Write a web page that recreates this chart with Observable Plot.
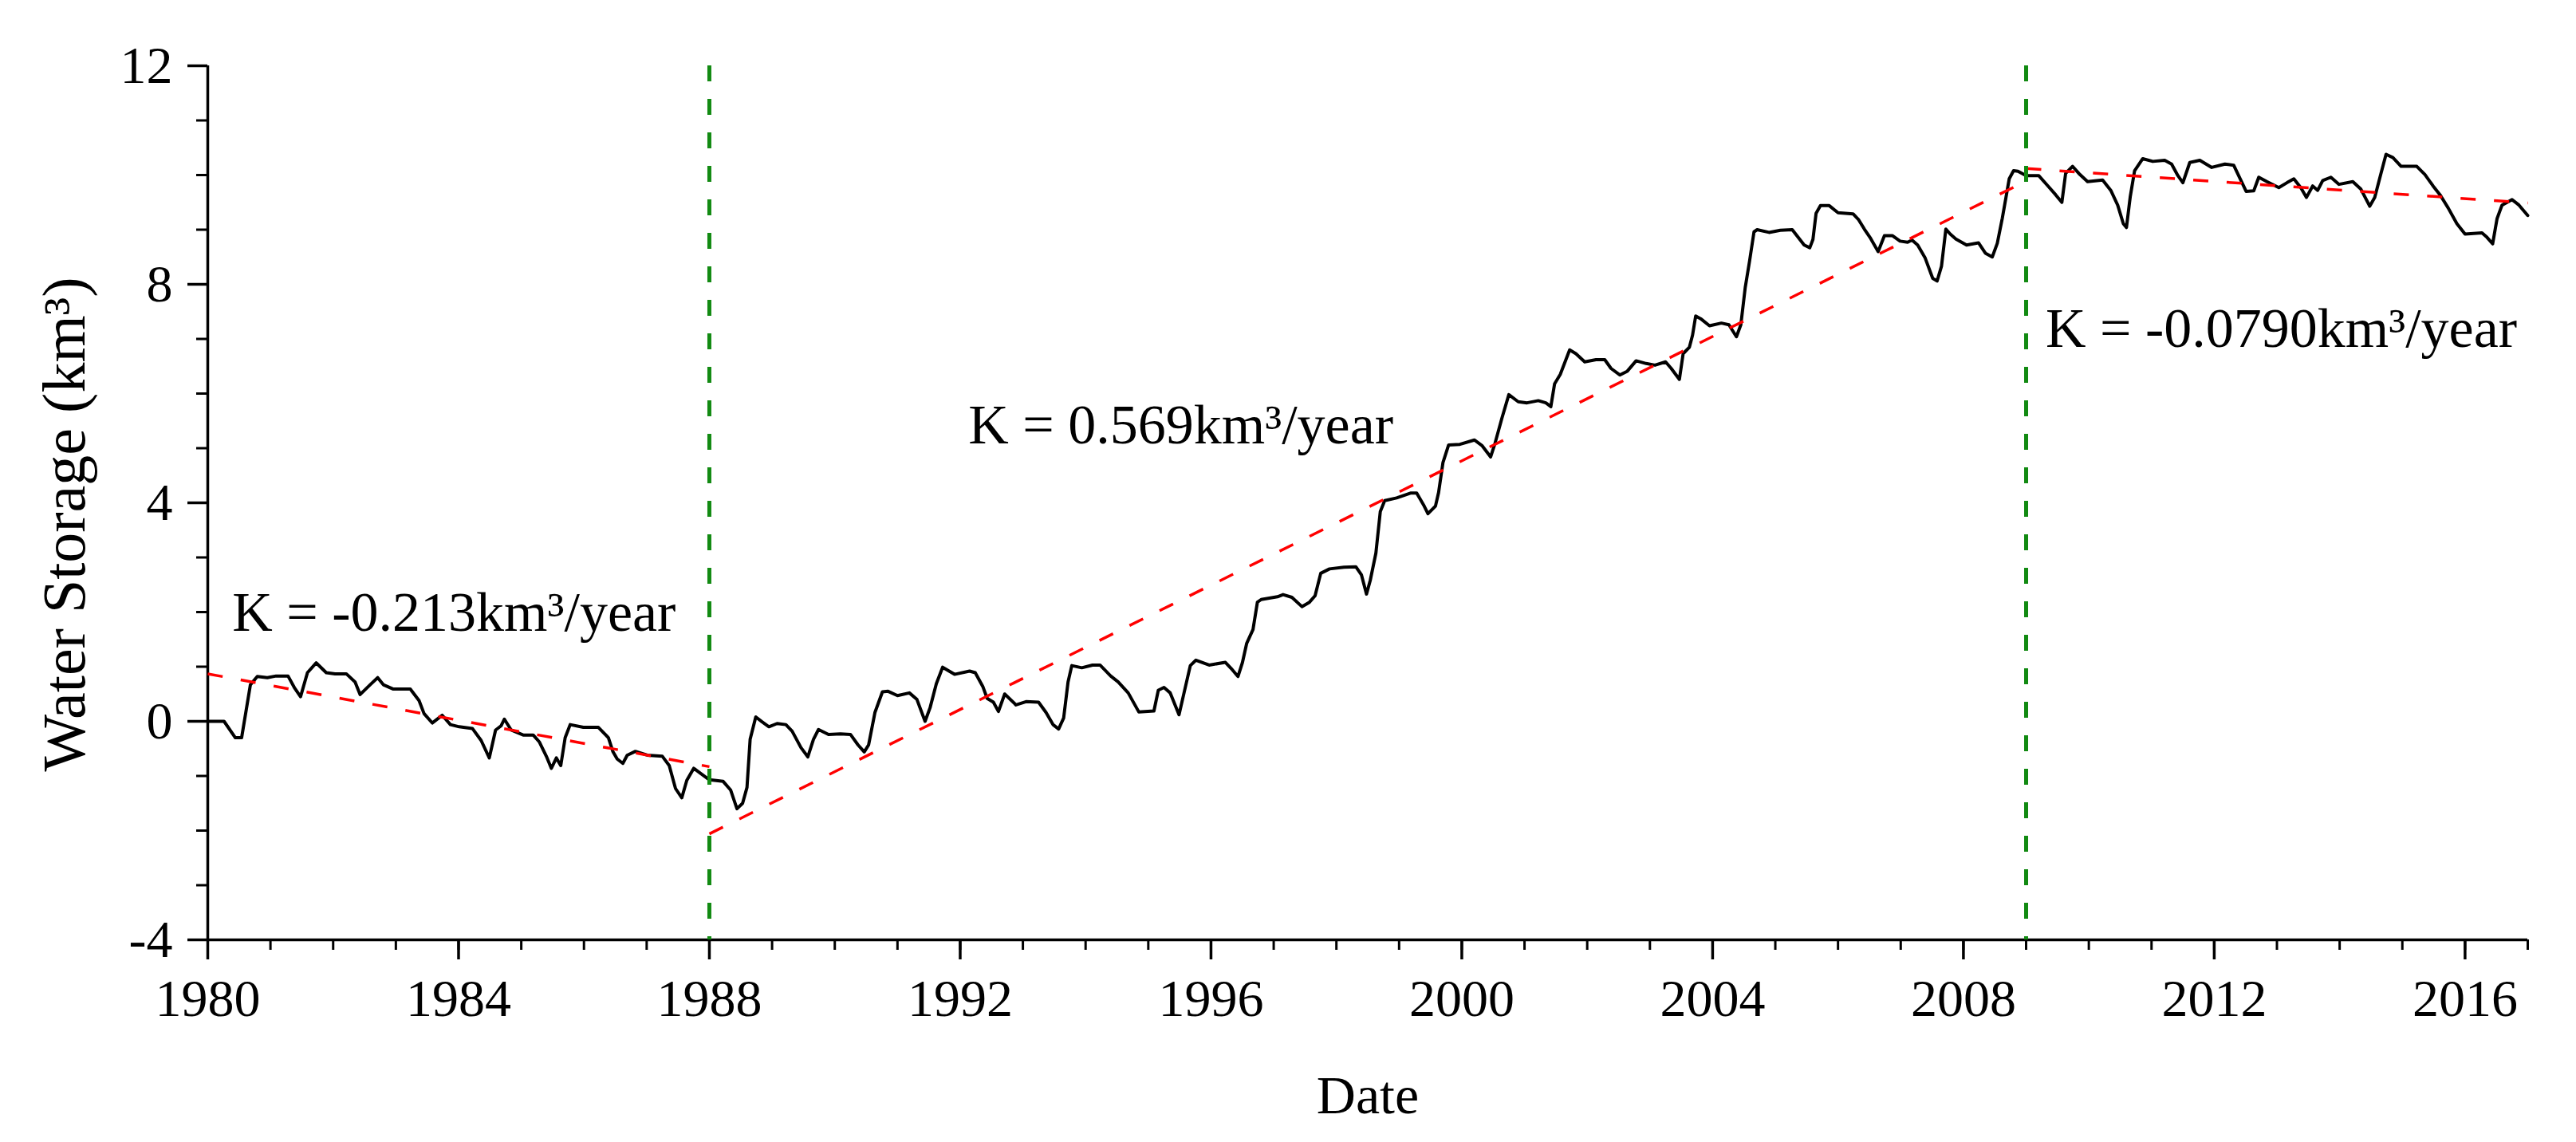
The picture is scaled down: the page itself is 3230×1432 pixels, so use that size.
<!DOCTYPE html>
<html>
<head>
<meta charset="utf-8">
<script src="https://cdn.jsdelivr.net/npm/d3@7"></script>
<script src="https://cdn.jsdelivr.net/npm/@observablehq/plot@0.6"></script>
<style>
  html, body { margin: 0; padding: 0; background: #fff; overflow: hidden; }
  #chart svg { display: block; }
</style>
</head>
<body>
<div id="chart"></div>
<script>
// Observation dates (decimal years) and water storage anomaly (km³)
const dates = [
  1980.00,1980.26,1980.44,1980.54,1980.68,1980.79,1980.95,1981.09,1981.28,1981.38,1981.48,1981.59,1981.73,1981.89,
  1982.03,1982.21,1982.35,1982.43,1982.59,1982.71,1982.80,1982.96,1983.23,1983.37,1983.45,1983.58,1983.74,1983.87,
  1984.01,1984.22,1984.36,1984.49,1984.59,1984.68,1984.73,1984.84,1985.03,1985.19,1985.29,1985.40,1985.48,1985.56,
  1985.63,1985.70,1985.78,1985.99,1986.23,1986.39,1986.46,1986.53,1986.62,1986.69,1986.82,1987.01,1987.25,1987.36,
  1987.46,1987.56,1987.64,1987.75,1987.87,1988.00,
  1988.22,1988.34,1988.44,1988.53,1988.60,1988.65,1988.74,1988.84,1988.95,1989.08,1989.22,1989.32,1989.46,1989.57,
  1989.66,1989.74,1989.90,1990.09,1990.25,1990.37,1990.47,1990.54,1990.64,1990.76,1990.85,1991.00,1991.19,1991.31,
  1991.44,1991.52,1991.62,1991.72,1991.91,1992.15,1992.24,1992.36,1992.43,1992.53,1992.61,1992.71,1992.89,1993.05,
  1993.25,1993.37,1993.48,1993.57,1993.65,1993.72,1993.78,1993.94,1994.11,1994.23,1994.40,1994.52,1994.68,1994.85,
  1995.09,1995.16,1995.25,1995.35,1995.49,1995.57,1995.67,1995.76,1995.97,1996.23,1996.32,1996.43,1996.50,1996.57,
  1996.67,1996.74,1996.80,1997.06,1997.15,1997.29,1997.45,1997.57,1997.66,1997.75,1997.89,1998.12,1998.31,1998.40,
  1998.48,1998.54,1998.63,1998.70,1998.77,1998.96,1999.19,1999.28,1999.40,1999.46,1999.58,1999.63,1999.70,1999.79,
  1999.97,2000.20,2000.32,2000.46,2000.53,2000.64,2000.75,2000.90,2001.04,2001.22,2001.34,2001.42,2001.48,2001.57,
  2001.72,2001.82,2001.96,
  2002.14,2002.28,2002.38,2002.52,2002.64,2002.78,2002.94,2003.08,2003.25,2003.34,2003.47,2003.53,2003.63,2003.68,
  2003.73,2003.81,2003.95,2004.14,2004.26,2004.38,2004.45,2004.52,2004.59,2004.66,2004.71,2004.90,2005.08,2005.27,
  2005.46,2005.55,2005.60,2005.65,2005.72,2005.86,2006.00,2006.24,2006.33,2006.42,2006.52,2006.64,2006.74,2006.87,
  2006.99,2007.11,2007.18,2007.27,2007.39,2007.51,2007.58,2007.65,2007.72,2007.79,2007.88,2008.05,2008.24,2008.35,
  2008.46,2008.54,2008.62,2008.68,2008.73,2008.80,2008.87,2009.00,
  2009.20,2009.34,2009.47,2009.57,2009.63,2009.74,2009.84,2009.98,2010.22,2010.35,2010.46,2010.55,2010.60,2010.66,
  2010.73,2010.86,2011.02,2011.21,2011.32,2011.42,2011.50,2011.61,2011.77,2011.96,2012.17,2012.31,2012.41,2012.51,
  2012.63,2012.71,2012.84,2013.03,2013.16,2013.27,2013.38,2013.47,2013.57,2013.65,2013.73,2013.86,2013.99,2014.21,
  2014.34,2014.48,2014.56,2014.65,2014.74,2014.85,2014.98,2015.23,2015.36,2015.49,2015.60,2015.73,2015.87,2016.00,
  2016.27,2016.35,2016.44,2016.51,2016.59,2016.75,2016.86,2017.00
];
const storage = [
  0.00,0.00,-0.30,-0.30,0.67,0.82,0.80,0.83,0.83,0.62,0.45,0.89,1.07,0.89,
  0.87,0.87,0.72,0.49,0.67,0.80,0.67,0.59,0.59,0.38,0.14,-0.03,0.11,-0.06,
  -0.10,-0.13,-0.35,-0.67,-0.16,-0.08,0.04,-0.16,-0.25,-0.25,-0.38,-0.64,-0.86,-0.67,
  -0.81,-0.30,-0.06,-0.11,-0.11,-0.30,-0.55,-0.69,-0.77,-0.62,-0.55,-0.62,-0.64,-0.81,
  -1.23,-1.40,-1.08,-0.86,-0.96,-1.07,
  -1.10,-1.26,-1.60,-1.50,-1.21,-0.33,0.08,-0.01,-0.10,-0.04,-0.06,-0.18,-0.48,-0.65,
  -0.33,-0.15,-0.24,-0.23,-0.24,-0.43,-0.56,-0.43,0.16,0.54,0.55,0.47,0.52,0.40,
  0.00,0.25,0.69,0.99,0.86,0.92,0.89,0.64,0.42,0.35,0.18,0.50,0.30,0.36,
  0.35,0.16,-0.06,-0.14,0.06,0.72,1.02,0.98,1.03,1.03,0.83,0.72,0.52,0.17,
  0.19,0.57,0.62,0.52,0.12,0.52,1.02,1.12,1.03,1.08,0.97,0.82,1.07,1.43,
  1.68,2.18,2.23,2.28,2.32,2.27,2.10,2.18,2.30,2.71,2.79,2.82,2.83,2.68,
  2.33,2.58,3.08,3.84,4.04,4.09,4.18,4.18,3.94,3.80,3.94,4.19,4.74,5.06,
  5.07,5.15,5.05,4.84,5.09,5.55,5.98,5.85,5.83,5.87,5.83,5.76,6.18,6.35,
  6.80,6.73,6.58,
  6.62,6.62,6.46,6.34,6.41,6.60,6.55,6.52,6.58,6.46,6.26,6.73,6.85,7.07,
  7.42,7.37,7.24,7.29,7.26,7.04,7.26,7.94,8.43,8.96,9.00,8.95,8.99,9.00,
  8.72,8.67,8.82,9.30,9.44,9.44,9.31,9.29,9.18,9.01,8.84,8.60,8.89,8.89,
  8.79,8.77,8.81,8.72,8.48,8.11,8.06,8.33,9.01,8.92,8.83,8.72,8.76,8.57,
  8.50,8.75,9.21,9.60,9.93,10.08,10.07,9.99,
  9.99,9.81,9.64,9.50,10.03,10.16,10.03,9.88,9.91,9.72,9.45,9.11,9.04,9.60,
  10.08,10.30,10.25,10.27,10.20,9.99,9.86,10.23,10.27,10.14,10.20,10.18,9.94,9.70,
  9.71,9.96,9.88,9.77,9.86,9.93,9.77,9.59,9.80,9.72,9.90,9.96,9.83,9.88,
  9.74,9.43,9.59,9.99,10.38,10.32,10.16,10.16,10.01,9.80,9.64,9.40,9.11,8.92,
  8.94,8.86,8.74,9.20,9.45,9.55,9.45,9.26
];

// Piecewise linear trends (endpoints)
const trendX1 = [1980, 1988, 2009];
const trendY1 = [0.87, -2.06, 10.12];
const trendX2 = [1988, 2009, 2017];
const trendY2 = [-0.83, 9.89, 9.49];

// Break points
const breakYears = [1988, 2009];

// Slope annotations
const annotX = [1980.39, 1992.13, 2009.31];
const annotY = [1.65, 5.09, 6.86];
const annotText = ["K = -0.213km³/year", "K = 0.569km³/year", "K = -0.0790km³/year"];

// Ticks
const xMajorTicks = [1980, 1984, 1988, 1992, 1996, 2000, 2004, 2008, 2012, 2016];
const xMinorTicks = d3.range(1980, 2018);
const yMajorTicks = [-4, 0, 4, 8, 12];
const yMinorTicks = d3.range(-4, 13);

const series = dates.map((d, i) => ({date: d, value: storage[i]}));
const trends = trendX1.map((d, i) => ({x1: d, y1: trendY1[i], x2: trendX2[i], y2: trendY2[i]}));
const annots = annotX.map((d, i) => ({x: d, y: annotY[i], text: annotText[i]}));

const fmt = d => String(d);

const chart = Plot.plot({
  width: 3230,
  height: 1432,
  marginLeft: 260,
  marginRight: 61,
  marginTop: 82,
  marginBottom: 254,
  style: {fontFamily: "'Liberation Serif', 'Times New Roman', serif", background: "#fff", color: "#000"},
  x: {domain: [1980, 2017], label: null},
  y: {domain: [-4, 12], label: null},
  marks: [
    // minor ticks
    Plot.axisX({ticks: xMinorTicks, tickSize: 13, strokeWidth: 3, fill: "none", label: null, tickFormat: () => ""}),
    Plot.axisY({ticks: yMinorTicks, tickSize: 14, strokeWidth: 3, fill: "none", label: null, tickFormat: () => ""}),
    // major ticks with labels
    Plot.axisX({ticks: xMajorTicks, tickSize: 25, tickPadding: 24, strokeWidth: 3.5, fontSize: 66, tickFormat: fmt, label: null}),
    Plot.axisY({ticks: yMajorTicks, tickSize: 25, tickPadding: 19, strokeWidth: 3.5, fontSize: 66, tickFormat: fmt, label: null}),
    // spines
    Plot.ruleX([1980], {stroke: "#000", strokeWidth: 3.5}),
    Plot.ruleY([-4], {stroke: "#000", strokeWidth: 3.5}),
    // data
    Plot.line(series, {x: "date", y: "value", stroke: "#000", strokeWidth: 4, strokeLinejoin: "round"}),
    Plot.link(trends, {x1: "x1", y1: "y1", x2: "x2", y2: "y2", stroke: "#ff0000", strokeWidth: 3.5, strokeDasharray: "19,23"}),
    Plot.ruleX(breakYears, {stroke: "#128a12", strokeWidth: 5, strokeDasharray: "20,22"}),
    // annotations
    Plot.text(annots, {x: "x", y: "y", text: "text", textAnchor: "start", lineAnchor: "bottom", fontSize: 70, fill: "#000"}),
    // axis titles
    Plot.text(["Water Storage (km³)"], {text: d => d, frameAnchor: "left", rotate: -90, dx: -155, dy: 27, lineAnchor: "bottom", textAnchor: "middle", fontSize: 76, fill: "#000"}),
    Plot.text(["Date"], {text: d => d, frameAnchor: "bottom", dy: 217, lineAnchor: "bottom", textAnchor: "middle", fontSize: 68, fill: "#000"})
  ]
});
document.getElementById("chart").appendChild(chart);
</script>
</body>
</html>
